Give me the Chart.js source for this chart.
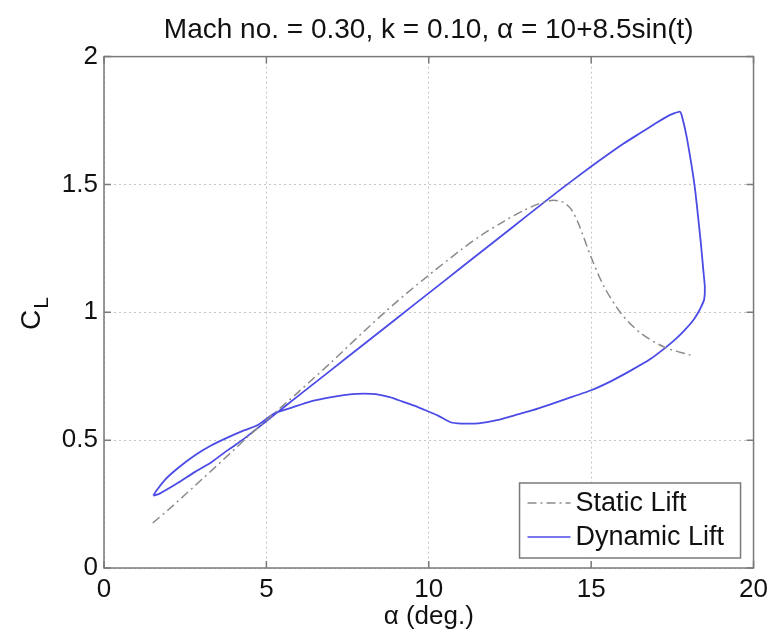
<!DOCTYPE html>
<html>
<head>
<meta charset="utf-8">
<script src="https://cdn.jsdelivr.net/npm/chart.js@4.4.1/dist/chart.umd.min.js"></script>
<style>
  html, body { margin: 0; padding: 0; background: #fff; }
  #wrap { width: 774px; height: 632px; }
</style>
</head>
<body>
<div id="wrap"><canvas id="lift-chart" width="774" height="632"></canvas></div>
<script>
var chartTitle = 'Mach no. = 0.30, k = 0.10, \u03b1 = 10+8.5sin(t)';
var xLabel = '\u03b1 (deg.)';
var seriesNames = ['Static Lift', 'Dynamic Lift'];

// static lift curve, alpha (deg) vs CL
var staticAlpha = [1.5, 2, 3, 4, 4.4, 5, 6, 7, 8, 9, 10, 11, 11.6, 12.3, 12.9, 13.4, 13.77, 14.0, 14.2, 14.4, 14.6, 15.0, 15.4, 15.92, 16.53, 17.27, 18.07];
var staticCl    = [0.176, 0.23, 0.345, 0.462, 0.51, 0.578, 0.69, 0.805, 0.925, 1.04, 1.145, 1.245, 1.3, 1.355, 1.397, 1.425, 1.437, 1.436, 1.426, 1.40, 1.35, 1.215, 1.10, 0.996, 0.918, 0.863, 0.832];

// dynamic lift loop (upstroke then downstroke)
var dynAlpha = [1.52, 1.7, 2.27, 2.79, 3.31, 3.8, 4.33, 4.72, 5.25, 6, 7, 8, 9, 10, 11, 12, 13, 14, 15, 16, 16.5, 17, 17.4, 17.73,
                17.8, 17.95, 18.19, 18.37, 18.45, 18.5, 18.48, 18.4, 18.3, 18.15, 17.88, 17.6, 17.27, 16.8, 16.23, 15.6, 15.0, 14.3, 13.68, 13.2, 12.66, 12.1, 11.53, 11.0, 10.67,
                10.3, 9.9, 9.55, 9.17, 8.8, 8.37, 8.0, 7.64, 7.0, 6.32, 5.8, 5.25, 4.72, 4.33, 3.8, 3.31, 2.79, 2.27, 1.87, 1.6, 1.52];
var dynCl    = [0.283, 0.29, 0.332, 0.375, 0.414, 0.46, 0.507, 0.546, 0.6, 0.675, 0.775, 0.875, 0.975, 1.075, 1.175, 1.275, 1.375, 1.475, 1.57, 1.66, 1.70, 1.74, 1.77, 1.785,
                1.765, 1.68, 1.49, 1.28, 1.17, 1.10, 1.05, 1.025, 1.0, 0.97, 0.93, 0.895, 0.86, 0.815, 0.773, 0.73, 0.695, 0.664, 0.637, 0.617, 0.598, 0.578, 0.566, 0.565, 0.57,
                0.595, 0.617, 0.635, 0.652, 0.668, 0.68, 0.682, 0.68, 0.668, 0.65, 0.628, 0.605, 0.558, 0.539, 0.51, 0.48, 0.44, 0.39, 0.344, 0.30, 0.283];

var xTicks = [0, 5, 10, 15, 20];
var yTicks = [0, 0.5, 1, 1.5, 2];

function toPoints(xs, ys) {
  var pts = [];
  for (var i = 0; i < xs.length; i++) pts.push({x: xs[i], y: ys[i]});
  return pts;
}

var FONT = '"Liberation Sans", Arial, Helvetica, sans-serif';

// frame, inward ticks, C_L label and boxed legend like matlab
var matlabBits = {
  id: 'matlabBits',
  afterDraw: function (chart) {
    var ctx = chart.ctx, a = chart.chartArea;
    var xs = chart.scales.x, ys = chart.scales.y;
    ctx.save();
    ctx.strokeStyle = '#7a7a7a';
    ctx.lineWidth = 1.5;
    ctx.strokeRect(a.left, a.top, a.right - a.left, a.bottom - a.top);
    ctx.beginPath();
    xTicks.forEach(function (v) {
      var px = xs.getPixelForValue(v);
      ctx.moveTo(px, a.bottom); ctx.lineTo(px, a.bottom - 7);
      ctx.moveTo(px, a.top); ctx.lineTo(px, a.top + 7);
    });
    yTicks.forEach(function (v) {
      var py = ys.getPixelForValue(v);
      ctx.moveTo(a.left, py); ctx.lineTo(a.left + 7, py);
      ctx.moveTo(a.right, py); ctx.lineTo(a.right - 7, py);
    });
    ctx.stroke();

    // y label C with subscript L
    ctx.fillStyle = '#111';
    ctx.translate(30, 330);
    ctx.rotate(-Math.PI / 2);
    ctx.textBaseline = 'alphabetic';
    ctx.textAlign = 'left';
    ctx.font = '28px ' + FONT;
    ctx.fillText('C', 0, 10);
    var w = ctx.measureText('C').width;
    ctx.font = '21px ' + FONT;
    ctx.fillText('L', w + 1, 18);
    ctx.restore();

    // legend box
    ctx.save();
    var bx = a.right - 234, by = a.bottom - 85, bw = 221, bh = 75;
    ctx.fillStyle = '#fff';
    ctx.fillRect(bx, by, bw, bh);
    ctx.strokeStyle = '#7a7a7a';
    ctx.lineWidth = 1.5;
    ctx.strokeRect(bx, by, bw, bh);
    chart.data.datasets.forEach(function (ds, i) {
      var cy = by + 20 + i * 34;
      ctx.strokeStyle = ds.borderColor;
      ctx.lineWidth = 1.5;
      ctx.setLineDash(ds.borderDash || []);
      ctx.beginPath();
      ctx.moveTo(bx + 8, cy); ctx.lineTo(bx + 51, cy);
      ctx.stroke();
      ctx.setLineDash([]);
      ctx.fillStyle = '#111';
      ctx.font = '27px ' + FONT;
      ctx.textBaseline = 'middle';
      ctx.fillText(ds.label, bx + 56, cy + 1);
    });
    ctx.restore();
  }
};

new Chart(document.getElementById('lift-chart'), {
  type: 'scatter',
  data: {
    datasets: [{
      label: seriesNames[0],
      data: toPoints(staticAlpha, staticCl),
      showLine: true,
      borderColor: '#8a8a8a',
      borderWidth: 1.5,
      borderDash: [9, 4, 2, 4],
      pointRadius: 0,
      tension: 0.3
    }, {
      label: seriesNames[1],
      data: toPoints(dynAlpha, dynCl),
      showLine: true,
      borderColor: '#4b4be6',
      borderWidth: 1.8,
      pointRadius: 0,
      tension: 0.15
    }]
  },
  options: {
    responsive: false,
    animation: false,
    layout: { padding: { top: 0, right: 18, left: 0, bottom: 0 } },
    plugins: {
      legend: { display: false },
      tooltip: { enabled: false },
      title: {
        display: true,
        text: chartTitle,
        fullSize: false,
        color: '#111',
        font: { family: FONT, size: 28, weight: 'normal' },
        padding: { top: 13, bottom: 10 }
      }
    },
    scales: {
      x: {
        type: 'linear', min: 0, max: 20,
        afterFit: function (s) { s.height = 64; },
        afterBuildTicks: function (s) { s.ticks = xTicks.map(function (v) { return {value: v}; }); },
        grid: { color: '#c4c4c4', drawTicks: false },
        border: { display: false, dash: [2, 3] },
        ticks: { color: '#111', padding: 6, font: { family: FONT, size: 26 }, maxRotation: 0,
                 callback: function (v) { return String(v); } },
        title: { display: true, text: xLabel, color: '#111', font: { family: FONT, size: 26 }, padding: { top: 0, bottom: 0 } }
      },
      y: {
        type: 'linear', min: 0, max: 2,
        afterFit: function (s) { s.width = 104; },
        afterBuildTicks: function (s) { s.ticks = yTicks.map(function (v) { return {value: v}; }); },
        grid: { color: '#c4c4c4', drawTicks: false },
        border: { display: false, dash: [2, 3] },
        ticks: { color: '#111', padding: 6, font: { family: FONT, size: 26 },
                 callback: function (v) { return String(v); } }
      }
    }
  },
  plugins: [matlabBits]
});
</script>
</body>
</html>
